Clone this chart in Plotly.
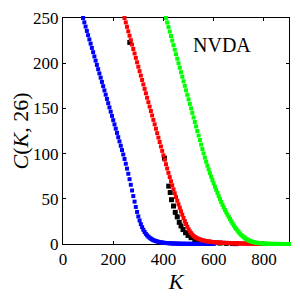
import plotly.graph_objects as go

K_BLUE = list(range(80, 605, 5))
C_BLUE = [250, 245.2, 240.5, 235.7, 231, 226.3, 221.6, 216.9, 212.2, 207.5,
          202.8, 198.1, 193.4, 188.7, 184, 179.3, 174.6, 169.9, 165.2, 160.5,
          155.8, 151.1, 146.4, 141.7, 137, 132.3, 127.6, 122.9, 118.2, 113.5,
          108.7, 103.9, 99, 94, 88.8, 83.4, 77.7, 71.7, 65.5, 59.2,
          53, 46.9, 41, 35.5, 30.5, 26, 22, 18.6, 15.7, 13.3,
          11.2, 9.5, 8.1, 6.9, 5.9, 5, 4.3, 3.7, 3.2, 2.8,
          2.4, 2.1, 1.8, 1.6, 1.4, 1.25, 1.1, 1, 0.9, 0.8,
          0.7, 0.62, 0.55, 0.49, 0.44, 0.4, 0.37, 0.34, 0.31, 0.29,
          0.27, 0.25, 0.23, 0.21, 0.2, 0.18, 0.17, 0.16, 0.15, 0.14,
          0.13, 0.12, 0.11, 0.1, 0.1, 0.09, 0.08, 0.08, 0.07, 0.07,
          0.06, 0.06, 0.05, 0.05, 0.05]

K_RED = list(range(245, 805, 5))
C_RED = [250, 245.1, 240.2, 235.3, 230.4, 225.5, 220.6, 215.7, 210.8, 205.9,
         201, 196.1, 191.2, 186.3, 181.4, 176.5, 171.6, 166.7, 161.8, 156.9,
         152, 147.1, 142.2, 137.3, 132.4, 127.5, 122.6, 117.7, 112.8, 107.9,
         103, 98.1, 93.2, 88.3, 83.5, 78.7, 74, 69.4, 64.9, 60.5,
         56.2, 52, 47.9, 43.9, 40, 36.2, 32.4, 28.8, 25.3, 22.1,
         19.1, 16.4, 14, 12, 10.3, 8.9, 7.8, 6.9, 6.2, 5.6,
         5.1, 4.6, 4.2, 3.8, 3.5, 3.2, 2.95, 2.75, 2.55, 2.4,
         2.25, 2.1, 1.95, 1.8, 1.7, 1.6, 1.5, 1.42, 1.34, 1.27,
         1.2, 1.13, 1.07, 1, 0.95, 0.9, 0.85, 0.8, 0.76, 0.72,
         0.68, 0.64, 0.6, 0.57, 0.54, 0.51, 0.48, 0.45, 0.43, 0.4,
         0.38, 0.36, 0.34, 0.32, 0.3, 0.28, 0.26, 0.25, 0.23, 0.22,
         0.2, 0.19]

K_GREEN = list(range(410, 905, 5))
C_GREEN = [250, 245, 240, 235, 230, 225, 220, 215, 210, 205,
           200, 195, 190, 185, 180, 175, 170, 165, 160, 155,
           150, 145, 140, 135, 130, 125, 120, 115, 110, 105,
           100.2, 95.5, 91, 86.7, 82.5, 78.4, 74.5, 70.7, 67, 63.4,
           60, 56.5, 53, 49.7, 46.5, 43.4, 40.5, 37.7, 35, 32.4,
           30, 27.5, 25, 22.7, 20.5, 18.4, 16.5, 14.7, 13, 11.5,
           10, 8.7, 7.5, 6.4, 5.5, 4.7, 4, 3.4, 2.8, 2.4,
           2, 1.7, 1.4, 1.2, 1, 0.85, 0.7, 0.6, 0.5, 0.43,
           0.36, 0.3, 0.25, 0.21, 0.18, 0.15, 0.13, 0.11, 0.1, 0.08,
           0.07, 0.06, 0.05, 0.04, 0.04, 0.03, 0.03, 0.02, 0.02]

K_MKT = [266, 404, 421, 427, 432, 440, 447, 455, 463, 470, 478, 488, 498,
         510, 525, 540, 560, 580, 600, 625, 650, 675, 690]
C_MKT = [223, 95, 64, 57, 49, 42, 35, 30, 24, 20, 16, 12.5, 9.5,
         7, 5, 3.8, 2.8, 2, 1.4, 1, 0.7, 0.5, 0.4]

X_TICKS = [0, 200, 400, 600, 800]
Y_TICKS = [0, 50, 100, 150, 200, 250]
LABEL = "NVDA"

FONT = "Liberation Serif"

fig = go.Figure()

def add(k, c, color, size):
    fig.add_trace(go.Scatter(
        x=k, y=c, mode="markers", cliponaxis=False,
        marker=dict(symbol="square", size=size, color=color, line=dict(width=0)),
        showlegend=False, hoverinfo="skip"))

add(K_MKT, C_MKT, "#000000", 5)
add(K_BLUE, C_BLUE, "#0000ff", 4)
add(K_RED, C_RED, "#ff0000", 4)
add(K_GREEN, C_GREEN, "#00ff00", 4)

axis_common = dict(
    showgrid=False, zeroline=False, showline=True, linecolor="black",
    linewidth=1, mirror="ticks", ticks="inside", ticklen=3, tickcolor="black",
    tickfont=dict(family=FONT, size=17, color="black"), layer="below traces",
    automargin=False,
)

fig.update_layout(
    width=292, height=292,
    margin=dict(l=55, r=11, t=10, b=56),
    paper_bgcolor="white", plot_bgcolor="white",
    xaxis=dict(range=[0, 900], tickvals=X_TICKS,
               title=dict(text="<i>K</i>", font=dict(family=FONT, size=22, color="black"),
                          standoff=2),
               **axis_common),
    yaxis=dict(range=[0, 250], tickvals=Y_TICKS,
               title=dict(text="<i>C</i>(<i>K</i>, 26)", font=dict(family=FONT, size=22, color="black"),
                          standoff=6),
               **axis_common),
    annotations=[dict(x=632, y=220, xref="x", yref="y", text=LABEL, showarrow=False,
                      font=dict(family=FONT, size=20, color="black"))],
)

fig.write_html("out.html")
